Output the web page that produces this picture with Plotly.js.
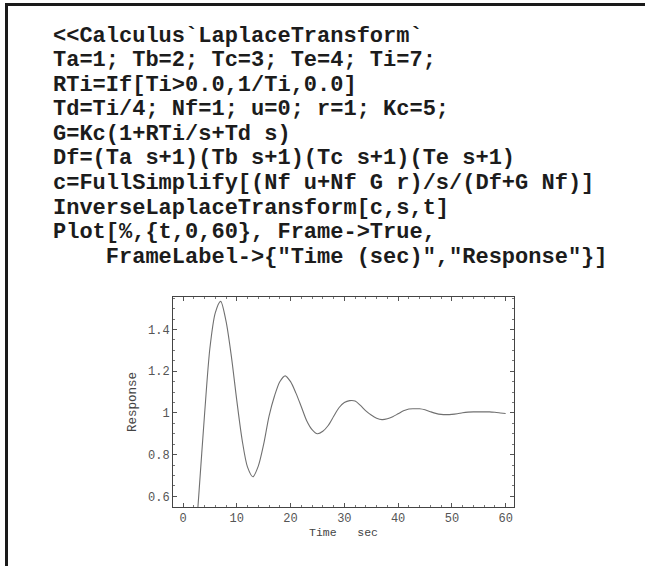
<!DOCTYPE html>
<html>
<head>
<meta charset="utf-8">
<script src="https://cdn.plot.ly/plotly-3.0.1.min.js"></script>
<style>
  html, body { margin: 0; padding: 0; background: #fff; overflow: hidden; }
  #wrap { position: relative; width: 645px; height: 566px; }
  #chart { width: 645px; height: 566px; }
  #frame { position: absolute; left: 5px; top: 3px; width: 660px; height: 580px;
           border-top: 3px solid #1a1a1a; border-left: 3px solid #1a1a1a; pointer-events: none; }
</style>
</head>
<body>
<div id="wrap"><div id="chart"></div><div id="frame"></div></div>
<script>
// ---- data ----
const timeSec = [2, 3, 4, 5, 6, 7, 8, 9, 10, 11, 12, 13, 14, 15, 16, 17, 18, 19, 20,
  21, 22, 23, 24, 25, 26, 27, 28, 29, 30, 31, 32, 33, 34, 35, 36, 37, 38, 39, 40,
  41, 42, 43, 44, 45, 46, 47, 48, 49, 50, 51, 52, 53, 54, 55, 56, 57, 58, 59, 60];
const response = [0.27, 0.63, 0.99, 1.31, 1.48, 1.535, 1.44, 1.27, 1.06, 0.87, 0.74, 0.694,
  0.745, 0.85, 0.985, 1.08, 1.15, 1.178, 1.15, 1.095, 1.03, 0.963, 0.92, 0.90, 0.912,
  0.94, 0.983, 1.025, 1.05, 1.059, 1.057, 1.036, 1.01, 0.99, 0.975, 0.968, 0.972,
  0.982, 0.996, 1.01, 1.019, 1.02, 1.02, 1.015, 1.006, 0.998, 0.993, 0.992, 0.993,
  0.996, 1.001, 1.004, 1.005, 1.005, 1.005, 1.005, 1.003, 1.0, 0.997];
const xTickVals = [0, 10, 20, 30, 40, 50, 60];
const yTickVals = [0.6, 0.8, 1, 1.2, 1.4];
const yTickText = ['0.6', '0.8', '1', '1.2', '1.4'];
const codeLines = [
  '&lt;&lt;Calculus`LaplaceTransform`',
  'Ta=1; Tb=2; Tc=3; Te=4; Ti=7;',
  'RTi=If[Ti&gt;0.0,1/Ti,0.0]',
  'Td=Ti/4; Nf=1; u=0; r=1; Kc=5;',
  'G=Kc(1+RTi/s+Td s)',
  'Df=(Ta s+1)(Tb s+1)(Tc s+1)(Te s+1)',
  'c=FullSimplify[(Nf u+Nf G r)/s/(Df+G Nf)]',
  'InverseLaplaceTransform[c,s,t]',
  'Plot[%,{t,0,60}, Frame-&gt;True,',
  '    FrameLabel-&gt;{"Time (sec)","Response"}]'
];
const xTitle = 'Time   sec';
const yTitle = 'Response';

// ---- layout geometry (pixels) ----
const W = 645, H = 566;
const M = { l: 173, r: 131, t: 297, b: 59 };
const pw = W - M.l - M.r, ph = H - M.t - M.b;
const px2x = p => (p - M.l) / pw;
const py2y = p => (H - M.b - p) / ph;

const codeLeft = 51, codeTop = 36, codeStep = 24.6;
const annotations = codeLines.map((s, i) => {
  const lead = s.match(/^ */)[0].length;
  return {
    xref: 'paper', yref: 'paper',
    x: px2x(codeLeft), y: py2y(codeTop + i * codeStep),
    xanchor: 'left', yanchor: 'middle',
    text: '\u00a0'.repeat(lead) + s.slice(lead).replace(/ /g, '\u00a0'),
    showarrow: false,
    font: { family: 'Liberation Mono, Courier New, monospace', size: 22, color: '#1c1c1c', weight: 'bold' }
  };
});

const tickFont = { family: 'Liberation Mono, Courier New, monospace', size: 12, color: '#555' };

const trace = {
  x: timeSec, y: response, type: 'scatter', mode: 'lines',
  line: { color: '#707070', width: 1.1, shape: 'spline', smoothing: 0.8 },
  hoverinfo: 'skip'
};

const layout = {
  width: W, height: H,
  margin: M,
  paper_bgcolor: '#fff', plot_bgcolor: '#fff',
  showlegend: false,
  xaxis: {
    range: [-1.86, 61.55], tickvals: xTickVals, showgrid: false, zeroline: false,
    showline: true, linecolor: '#444', linewidth: 1, mirror: 'allticks',
    ticks: 'inside', ticklen: 4, tickcolor: '#555', tickwidth: 1,
    minor: { dtick: 2, tick0: 0, ticks: 'inside', ticklen: 2, tickcolor: '#777', showgrid: false },
    tickfont: tickFont,
    title: { text: xTitle.replace(/ /g, '\u00a0'), font: { family: 'Liberation Mono, Courier New, monospace', size: 11.5, color: '#444' }, standoff: 2 },
    automargin: false
  },
  yaxis: {
    range: [0.549, 1.556], tickvals: yTickVals, ticktext: yTickText, showgrid: false, zeroline: false,
    showline: true, linecolor: '#444', linewidth: 1, mirror: 'allticks',
    ticks: 'inside', ticklen: 4, tickcolor: '#555', tickwidth: 1,
    minor: { dtick: 0.05, tick0: 0, ticks: 'inside', ticklen: 2, tickcolor: '#777', showgrid: false },
    tickfont: tickFont,
    title: { text: yTitle, font: { family: 'Liberation Mono, Courier New, monospace', size: 12.5, color: '#444' }, standoff: 8 },
    automargin: false
  },
  annotations: annotations
};

Plotly.newPlot('chart', [trace], layout, { staticPlot: true, displayModeBar: false });
</script>
</body>
</html>
